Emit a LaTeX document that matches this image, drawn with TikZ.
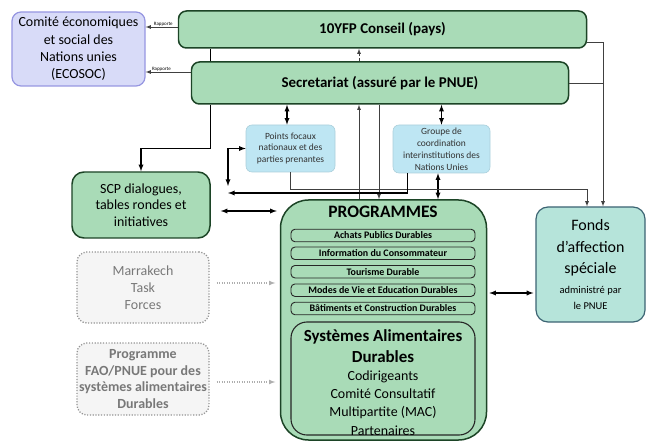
\documentclass[tikz,border=0pt]{standalone}
\usepackage{fontspec}
\setmainfont{Carlito}
\usetikzlibrary{arrows}

\definecolor{boxgreen}{RGB}{169,219,183}
\definecolor{darkgreen}{RGB}{28,68,38}
\definecolor{lightblue}{RGB}{190,230,243}
\definecolor{ecofill}{RGB}{216,219,248}
\definecolor{ecoline}{RGB}{150,150,225}
\definecolor{fondsfill}{RGB}{182,228,218}
\definecolor{fondsline}{RGB}{60,100,115}
\definecolor{taskgray}{RGB}{120,120,120}

\begin{document}
\begin{tikzpicture}[>=latex,x=1bp,y=-1bp,
  greenbox/.style={draw=darkgreen,fill=boxgreen,line width=1.5pt,rounded corners=8bp,align=center,inner sep=1bp},
  ecobox/.style={draw=ecoline,fill=ecofill,line width=1.2pt,rounded corners=9bp,align=center,inner sep=1bp,
    font=\fontsize{14}{17.5}\selectfont},
  bluebox/.style={draw=lightblue!90!black,fill=lightblue,line width=0.6pt,rounded corners=6bp,align=center,inner sep=1bp,
    text=black!80,font=\fontsize{9.5}{12}\selectfont},
  taskbox/.style={draw=taskgray!80,fill=black!4,line width=1.3pt,dash pattern=on 1.2pt off 1.6pt,rounded corners=10bp,
    align=center,inner sep=1bp,text=taskgray,font=\fontsize{14}{16.8}\selectfont},
  itembox/.style={draw=black!85,fill=boxgreen,line width=0.9pt,rounded corners=4bp,minimum width=184bp,
    minimum height=12.5bp,inner sep=0pt,font=\bfseries\fontsize{10}{12}\selectfont},
  fondsbox/.style={draw=fondsline,fill=fondsfill,line width=1.2pt,rounded corners=12bp,align=center},
  link/.style={->,line width=1.3pt},
  thinlink/.style={->,draw=black!75,line width=0.8pt},
  dotlink/.style={->,draw=taskgray!60,line width=1.1pt,dash pattern=on 1pt off 1.5pt},
  rapport/.style={font=\fontsize{5}{5}\selectfont,inner sep=0.5pt}]
  \useasboundingbox (0,0) rectangle (651,441);

  % top row
  \node[ecobox,minimum width=133bp,minimum height=74bp] (ecosoc) at (78.5,49)
    {Comité économiques\\et social des\\Nations unies\\(ECOSOC)};
  \node[greenbox,minimum width=408bp,minimum height=37bp,font=\bfseries\fontsize{15}{18}\selectfont]
    (conseil) at (382.5,29.5) {10YFP Conseil (pays)};
  \node[greenbox,minimum width=377bp,minimum height=42bp,font=\bfseries\fontsize{15}{18}\selectfont]
    (secr) at (380,83) {Secretariat (assuré par le PNUE)};

  % middle row
  \node[bluebox,minimum width=89bp,minimum height=47bp] (points) at (290.5,148.5)
    {Points focaux\\nationaux et des\\parties prenantes};
  \node[bluebox,minimum width=97bp,minimum height=48bp] (groupe) at (441.5,149)
    {Groupe de\\coordination\\interinstitutions des\\Nations Unies};
  \node[greenbox,rounded corners=12bp,minimum width=138bp,minimum height=66bp,font=\fontsize{14}{16.5}\selectfont]
    (scp) at (141,205) {SCP dialogues,\\tables rondes et\\initiatives};

  % left column
  \node[taskbox,minimum width=132bp,minimum height=71bp] (marrakech) at (143,287.5)
    {Marrakech\\Task\\Forces};
  \node[taskbox,minimum width=132bp,minimum height=72bp,font=\bfseries\fontsize{14}{16.7}\selectfont]
    (fao) at (143,379) {Programme\\FAO/PNUE pour des\\systèmes alimentaires\\Durables};

  % programmes
  \node[greenbox,rounded corners=28bp,minimum width=206bp,minimum height=240bp] (prog) at (383.5,320) {};
  \node[font=\bfseries\fontsize{17.5}{20}\selectfont,inner sep=0pt] (progtitle) at (383,212) {PROGRAMMES};
  \foreach \id/\yy/\txt in {achats/235.5/Achats Publics Durables,
      info/253.3/Information du Consommateur,
      tourisme/271.7/Tourisme Durable,
      modes/290.2/Modes de Vie et Education Durables,
      batiments/308.5/Bâtiments et Construction Durables}
    \node[itembox] (\id) at (383,\yy) {\txt};
  \node[itembox,rounded corners=16bp,minimum height=113bp,line width=1.1pt] (systemes) at (383,378.5) {};
  \node[font=\bfseries\fontsize{17}{21.5}\selectfont,align=center,inner sep=0pt] (sysname) at (383,346)
    {Systèmes Alimentaires\\Durables};
  \node[font=\fontsize{14}{18.3}\selectfont,align=center,inner sep=0pt] (syslist) at (383,403)
    {Codirigeants\\Comité Consultatif\\Multipartite (MAC)\\Partenaires};

  % fonds
  \node[fondsbox,minimum width=109bp,minimum height=115bp] (fonds) at (590.5,264.5) {};
  \node[font=\fontsize{16}{21.5}\selectfont,align=center,inner sep=0pt] (fondstitle) at (590.5,248)
    {Fonds\\d’affection\\spéciale};
  \node[font=\fontsize{10.5}{15.5}\selectfont,align=center,inner sep=0pt] (fondsnote) at (590.5,298)
    {administré par\\le PNUE};

  \coordinate (upx) at (359,0);
  \coordinate (downx) at (379,0);
  \coordinate (freeleft) at (228,193);
  \coordinate (freepoints) at (228,186);

  % reports to ECOSOC
  \draw[thinlink] ([yshift=2.5bp]conseil.west) -- ([yshift=2.5bp]conseil.west -| ecosoc.east)
    node[rapport,pos=0.45,above] {Rapporte};
  \draw[thinlink] ([yshift=11bp]secr.west) -- ([yshift=11bp]secr.west -| ecosoc.east)
    node[rapport,pos=0.65,above] {Rapporte};

  % conseil / secretariat
  \draw[line width=1.3pt] (conseil.south -| scp.east) -- (secr.north -| scp.east);
  \draw[link] (secr.south -| scp.east) -- ++(0,44) -| (scp.north);
  \draw[thinlink,densely dashed] (secr.north -| upx) -- (conseil.south -| upx);
  \draw[thinlink] (prog.north -| upx) -- (secr.south -| upx);
  \draw[thinlink,line width=1pt] (secr.south -| downx) -- (prog.north -| downx);
  \draw[link,<->] ([xshift=-3.5bp]points.north) -- ([xshift=-3.5bp]points.north |- secr.south);
  \draw[link,<->] (groupe.north) -- (groupe.north |- secr.south);
  \draw[link,<->] ([xshift=-3.5bp]groupe.south) -- ([xshift=-3.5bp]groupe.south |- prog.north);

  % to the fund
  \draw[thinlink] ([yshift=-12.5bp]conseil.east) -| ([xshift=12.5bp]fonds.north);
  \draw[draw=black!75,line width=0.8pt] (secr.east) -- ([xshift=12.5bp]secr.east -| fonds.north);
  \draw[thinlink] (points.south) -- ++(0,17) -| ([xshift=-3.5bp]fonds.north);

  % focal points and groups
  \draw[link] ([xshift=-34bp]groupe.south) |- (freeleft);
  \draw[link,<->] (freepoints) |- (points.west);

  % programmes links
  \draw[link,<->] ([xshift=10bp,yshift=-6bp]scp.east) -- ([xshift=-3bp,yshift=-6bp]scp.east -| prog.west);
  \draw[dotlink] ([xshift=7bp,yshift=4.5bp]marrakech.east) -- ([xshift=-4.5bp,yshift=4.5bp]marrakech.east -| prog.west);
  \draw[dotlink] ([xshift=7bp,yshift=-3bp]fao.east) -- ([xshift=-4.5bp,yshift=-3bp]fao.east -| prog.west);
  \draw[link,<->] ([xshift=2bp,yshift=27bp]prog.east) -- ([xshift=-2bp,yshift=27bp]prog.east -| fonds.west);
\end{tikzpicture}
\end{document}
